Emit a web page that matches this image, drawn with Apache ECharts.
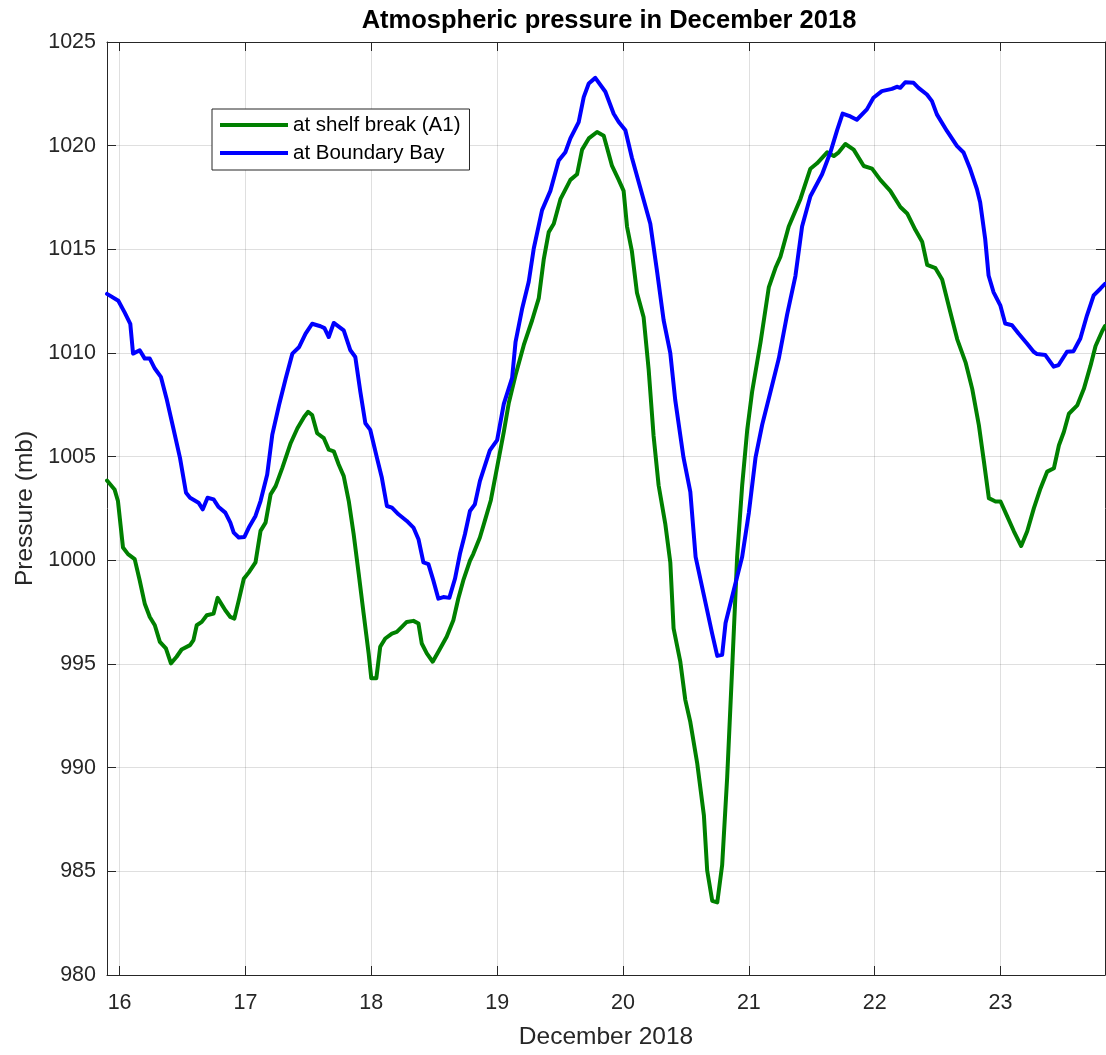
<!DOCTYPE html>
<html>
<head>
<meta charset="utf-8">
<title>Atmospheric pressure in December 2018</title>
<script src="https://cdn.jsdelivr.net/npm/echarts@6/dist/echarts.min.js"></script>
<style>
  html, body { margin: 0; padding: 0; background: #fff; }
  #chart { width: 1106px; height: 1055px; }
</style>
</head>
<body>
<div id="chart"></div>
<script>
// Day of December 2018 (fractional) and pressure in mb, shelf-break mooring A1
const shelfTime = [
  15.9, 15.96, 15.987, 16.027, 16.067, 16.12, 16.16, 16.2, 16.24, 16.28, 16.32, 16.368, 16.408, 16.453,
  16.493, 16.56, 16.587, 16.613, 16.653, 16.693, 16.747, 16.779, 16.84, 16.88, 16.912, 16.947, 16.987,
  17.027, 17.08, 17.12, 17.16, 17.2, 17.24, 17.293, 17.36, 17.413, 17.467, 17.498, 17.53, 17.57, 17.623,
  17.662, 17.702, 17.741, 17.781, 17.821, 17.86, 17.9, 17.939, 17.979, 18.0, 18.04, 18.071, 18.111,
  18.164, 18.203, 18.243, 18.282, 18.335, 18.375, 18.401, 18.441, 18.488, 18.533, 18.599, 18.652, 18.691,
  18.731, 18.784, 18.81, 18.863, 18.902, 18.95, 19.0, 19.053, 19.093, 19.146, 19.212, 19.278, 19.331,
  19.37, 19.41, 19.45, 19.503, 19.582, 19.635, 19.675, 19.728, 19.794, 19.847, 19.913, 19.966, 20.005,
  20.032, 20.071, 20.111, 20.164, 20.204, 20.243, 20.283, 20.336, 20.376, 20.402, 20.455, 20.495, 20.535,
  20.59, 20.643, 20.669, 20.709, 20.749, 20.788, 20.828, 20.868, 20.907, 20.947, 20.987, 21.026, 21.093,
  21.159, 21.212, 21.251, 21.317, 21.41, 21.489, 21.542, 21.622, 21.675, 21.714, 21.767, 21.833, 21.913,
  21.979, 22.045, 22.124, 22.204, 22.258, 22.324, 22.377, 22.417, 22.483, 22.536, 22.589, 22.656, 22.722,
  22.775, 22.828, 22.868, 22.907, 22.96, 23.0, 23.053, 23.106, 23.164, 23.212, 23.265, 23.318, 23.371,
  23.424, 23.464, 23.503, 23.543, 23.609, 23.662, 23.715, 23.755, 23.808, 23.83
];
const shelfPressure = [
  1003.85, 1003.42, 1002.86, 1000.62, 1000.30, 1000.06, 999.03, 997.91, 997.27, 996.87, 996.07, 995.75, 995.03, 995.35,
  995.70, 995.91, 996.15, 996.87, 997.03, 997.35, 997.43, 998.19, 997.59, 997.27, 997.19, 998.07, 999.11,
  999.42, 999.90, 1001.42, 1001.82, 1003.18, 1003.58, 1004.46, 1005.66, 1006.37, 1006.93, 1007.16, 1007.01, 1006.13, 1005.89,
  1005.34, 1005.26, 1004.62, 1004.06, 1002.86, 1001.26, 999.35, 997.43, 995.51, 994.31, 994.31, 995.83, 996.23,
  996.47, 996.55, 996.79, 997.03, 997.08, 996.95, 995.99, 995.51, 995.11, 995.59, 996.31, 997.11, 998.15,
  999.03, 999.98, 1000.30, 1001.10, 1001.90, 1002.90, 1004.50, 1006.20, 1007.60, 1008.93, 1010.39, 1011.58, 1012.65,
  1014.50, 1015.83, 1016.23, 1017.42, 1018.35, 1018.62, 1019.81, 1020.35, 1020.66, 1020.48, 1019.02, 1018.35, 1017.82,
  1016.10, 1014.90, 1012.91, 1011.72, 1009.20, 1006.01, 1003.62, 1001.76, 999.90, 996.72, 995.13, 993.27, 992.20,
  990.20, 987.69, 985.04, 983.58, 983.50, 985.30, 989.55, 994.86, 1000.17, 1003.62, 1006.28, 1008.13, 1010.52,
  1013.18, 1014.11, 1014.64, 1016.10, 1017.43, 1018.89, 1019.15, 1019.68, 1019.50, 1019.68, 1020.08, 1019.81, 1019.02,
  1018.89, 1018.35, 1017.82, 1017.04, 1016.73, 1015.93, 1015.37, 1014.25, 1014.09, 1013.54, 1012.26, 1010.66, 1009.55,
  1008.27, 1006.51, 1004.76, 1003.00, 1002.84, 1002.84, 1002.12, 1001.40, 1000.69, 1001.40, 1002.52, 1003.48, 1004.28,
  1004.44, 1005.55, 1006.19, 1007.07, 1007.47, 1008.27, 1009.39, 1010.34, 1011.06, 1011.30
];

// Day of December 2018 (fractional) and pressure in mb, Boundary Bay station
const bayTime = [
  15.9, 15.99, 16.04, 16.085, 16.107, 16.16, 16.2, 16.24, 16.28, 16.328, 16.373, 16.427, 16.48, 16.528,
  16.56, 16.627, 16.661, 16.699, 16.747, 16.787, 16.84, 16.88, 16.907, 16.947, 16.992, 17.027, 17.08,
  17.12, 17.173, 17.213, 17.267, 17.32, 17.373, 17.427, 17.478, 17.53, 17.596, 17.628, 17.662, 17.702,
  17.781, 17.834, 17.873, 17.913, 17.953, 17.992, 18.045, 18.084, 18.124, 18.164, 18.216, 18.282, 18.335,
  18.375, 18.414, 18.454, 18.493, 18.533, 18.573, 18.62, 18.665, 18.704, 18.744, 18.784, 18.823, 18.863,
  18.942, 19.0, 19.053, 19.119, 19.146, 19.198, 19.251, 19.291, 19.357, 19.423, 19.489, 19.542, 19.582,
  19.648, 19.688, 19.728, 19.78, 19.86, 19.926, 19.966, 20.019, 20.071, 20.138, 20.217, 20.27, 20.323,
  20.376, 20.415, 20.481, 20.535, 20.577, 20.643, 20.709, 20.749, 20.788, 20.815, 20.881, 20.947, 21.0,
  21.053, 21.106, 21.172, 21.238, 21.304, 21.37, 21.423, 21.489, 21.582, 21.648, 21.701, 21.745, 21.807,
  21.858, 21.938, 21.99, 22.057, 22.137, 22.176, 22.203, 22.243, 22.309, 22.348, 22.415, 22.455, 22.494,
  22.574, 22.653, 22.706, 22.759, 22.812, 22.838, 22.878, 22.905, 22.944, 22.998, 23.037, 23.091, 23.143,
  23.21, 23.263, 23.29, 23.356, 23.422, 23.461, 23.528, 23.58, 23.634, 23.687, 23.74, 23.793, 23.83
];
const bayPressure = [
  1012.85, 1012.52, 1011.96, 1011.41, 1009.97, 1010.13, 1009.73, 1009.73, 1009.25, 1008.85, 1007.81, 1006.37, 1004.94, 1003.26,
  1003.02, 1002.78, 1002.46, 1003.02, 1002.94, 1002.57, 1002.30, 1001.82, 1001.34, 1001.10, 1001.13, 1001.58, 1002.14,
  1002.86, 1004.14, 1006.05, 1007.49, 1008.77, 1009.97, 1010.29, 1010.93, 1011.41, 1011.29, 1011.20, 1010.77, 1011.45,
  1011.09, 1010.13, 1009.81, 1008.13, 1006.61, 1006.29, 1004.94, 1003.98, 1002.62, 1002.54, 1002.22, 1001.90, 1001.58,
  1001.02, 999.90, 999.82, 999.03, 998.15, 998.23, 998.19, 999.11, 1000.30, 1001.26, 1002.38, 1002.70, 1003.82,
  1005.30, 1005.80, 1007.55, 1008.80, 1010.52, 1012.12, 1013.44, 1015.04, 1016.89, 1017.82, 1019.28, 1019.68, 1020.35,
  1021.14, 1022.34, 1023.00, 1023.27, 1022.60, 1021.54, 1021.14, 1020.74, 1019.42, 1017.96, 1016.23, 1013.97, 1011.58,
  1009.99, 1007.74, 1004.95, 1003.30, 1000.17, 998.31, 996.45, 995.39, 995.44, 996.98, 998.58, 1000.17, 1002.29,
  1004.95, 1006.54, 1008.13, 1009.73, 1011.85, 1013.71, 1016.10, 1017.56, 1018.62, 1019.68, 1020.74, 1021.55, 1021.41,
  1021.25, 1021.75, 1022.31, 1022.63, 1022.74, 1022.84, 1022.79, 1023.06, 1023.03, 1022.79, 1022.47, 1022.15, 1021.51,
  1020.71, 1019.99, 1019.67, 1018.87, 1017.91, 1017.27, 1015.50, 1013.74, 1012.94, 1012.30, 1011.42, 1011.34, 1010.94,
  1010.46, 1010.06, 1009.95, 1009.90, 1009.34, 1009.42, 1010.06, 1010.09, 1010.70, 1011.82, 1012.78, 1013.10, 1013.34
];

// Axis ticks
const dayTicks = [16, 17, 18, 19, 20, 21, 22, 23];
const pressureTicks = [980, 985, 990, 995, 1000, 1005, 1010, 1015, 1020, 1025];

const seriesNames = ['at shelf break (A1)', 'at Boundary Bay'];
const seriesColors = ['#008000', '#0000ff'];

const pair = (ts, ps) => ts.map((t, i) => [t, ps[i]]);

const FONT = '"Liberation Sans", Arial, Helvetica, sans-serif';
const AXIS_COLOR = '#262626';
const GRID_COLOR = 'rgba(38,38,38,0.15)';

const xMin = 15.9, xMax = 23.83;
const yMin = pressureTicks[0], yMax = pressureTicks[pressureTicks.length - 1];

const chart = echarts.init(document.getElementById('chart'), null, { renderer: 'canvas' });

// Shared settings for the boxed frame: inward ticks on all four sides
const boxAxisX = {
  type: 'value', min: xMin, max: xMax,
  axisLine: { show: true, onZero: false, lineStyle: { color: AXIS_COLOR, width: 1 } },
  axisTick: { show: true, inside: true, length: 9, customValues: dayTicks, lineStyle: { color: AXIS_COLOR, width: 1 } },
  splitLine: { show: false }
};
const boxAxisY = {
  type: 'value', min: yMin, max: yMax, interval: 5,
  axisLine: { show: true, onZero: false, lineStyle: { color: AXIS_COLOR, width: 1 } },
  axisTick: { show: true, inside: true, length: 9, lineStyle: { color: AXIS_COLOR, width: 1 } },
  splitLine: { show: false }
};

chart.setOption({
  animation: false,
  backgroundColor: '#ffffff',
  textStyle: { fontFamily: FONT },
  title: {
    text: 'Atmospheric pressure in December 2018',
    left: 609, top: 8, padding: 0, textAlign: 'center',
    textStyle: { fontFamily: FONT, fontSize: 25.5, fontWeight: 'bold', color: '#000000' }
  },
  legend: {
    left: 212, top: 109, orient: 'vertical',
    data: seriesNames,
    icon: 'rect', itemWidth: 68, itemHeight: 4, itemGap: 4,
    padding: [4, 9, 5, 8],
    backgroundColor: '#ffffff', borderColor: AXIS_COLOR, borderWidth: 1, borderRadius: 0,
    textStyle: { fontFamily: FONT, fontSize: 20.5, color: '#000000', lineHeight: 24 }
  },
  grid: { left: 107, right: 1, top: 42, bottom: 76, containLabel: false },
  xAxis: [
    Object.assign({}, boxAxisX, {
      position: 'bottom',
      name: 'December 2018', nameLocation: 'middle', nameGap: 50,
      nameTextStyle: { fontFamily: FONT, fontSize: 24.5, color: AXIS_COLOR },
      axisLabel: { show: true, customValues: dayTicks, margin: 17, fontSize: 21.5, color: AXIS_COLOR, fontFamily: FONT },
      splitLine: { show: true, lineStyle: { color: GRID_COLOR, width: 1 } }
    }),
    Object.assign({}, boxAxisX, { position: 'top', axisLabel: { show: false } })
  ],
  yAxis: [
    Object.assign({}, boxAxisY, {
      position: 'left',
      name: 'Pressure (mb)', nameLocation: 'middle', nameGap: 66, nameRotate: 90,
      nameTextStyle: { fontFamily: FONT, fontSize: 24.5, color: AXIS_COLOR },
      axisLabel: { show: true, margin: 11, fontSize: 21.5, color: AXIS_COLOR, fontFamily: FONT,
                   formatter: (v) => String(v) },
      splitLine: { show: true, lineStyle: { color: GRID_COLOR, width: 1 } }
    }),
    Object.assign({}, boxAxisY, { position: 'right', axisLabel: { show: false } })
  ],
  series: [
    {
      name: seriesNames[0], type: 'line', xAxisIndex: 0, yAxisIndex: 0,
      data: pair(shelfTime, shelfPressure),
      showSymbol: false, symbol: 'none', smooth: false, clip: true,
      color: seriesColors[0],
      lineStyle: { color: seriesColors[0], width: 4, join: 'round', cap: 'round' }
    },
    {
      name: seriesNames[1], type: 'line', xAxisIndex: 0, yAxisIndex: 0,
      data: pair(bayTime, bayPressure),
      showSymbol: false, symbol: 'none', smooth: false, clip: true,
      color: seriesColors[1],
      lineStyle: { color: seriesColors[1], width: 4, join: 'round', cap: 'round' }
    }
  ]
});
</script>
</body>
</html>
